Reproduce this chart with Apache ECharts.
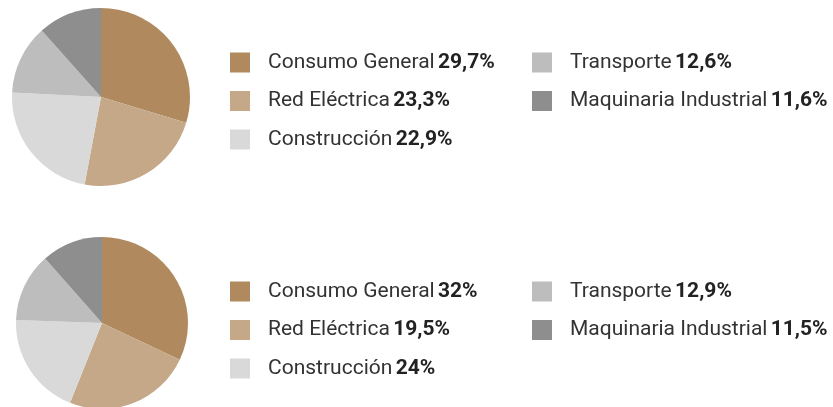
<!DOCTYPE html>
<html lang="es">
<head>
    <meta charset="utf-8">
    <script src="https://cdn.jsdelivr.net/npm/echarts@6/dist/echarts.min.js"></script>
    <style>
        html, body { margin: 0; padding: 0; background: #fff; }
        #chart { width: 833px; height: 407px; }
    </style>
</head>
<body>
<div id="chart"></div>
<script type="text/javascript">
    var categories = ['Consumo General', 'Red Eléctrica', 'Construcción', 'Transporte', 'Maquinaria Industrial'];
    // top pie: slices and legend agree
    var valuesTop = [29.7, 23.3, 22.9, 12.6, 11.6];
    // bottom pie: slices as drawn in the source (2nd and 3rd slice look swapped vs. its legend)
    var valuesBottom = [32, 24, 19.5, 12.9, 11.5];
    var legendBottom = [32, 19.5, 24, 12.9, 11.5];
    var colors = ['#b08a5e', '#c4a888', '#d9d9d9', '#bdbdbd', '#8e8e8e'];

    function pct(v) {
        return String(v).replace('.', ',') + '%';
    }

    function pieData(values) {
        return categories.map(function (name, i) {
            return { name: name, value: values[i], itemStyle: { color: colors[i] } };
        });
    }

    function legendFor(values, names, left, top) {
        return {
            orient: 'vertical',
            left: left,
            top: top,
            padding: 0,
            data: names,
            icon: 'rect',
            itemWidth: 20,
            itemHeight: 20,
            itemGap: 17.5,
            selectedMode: false,
            formatter: function (name) {
                return '{n|' + name + '} {b|' + pct(values[categories.indexOf(name)]) + '}';
            },
            textStyle: {
                rich: {
                    n: { fontFamily: 'Roboto', fontSize: 21, color: '#333', lineHeight: 20, padding: [0, 0, 0, 13] },
                    b: { fontFamily: 'Roboto', fontSize: 21, fontWeight: 'bold', color: '#222', lineHeight: 20 }
                }
            }
        };
    }

    var chart = echarts.init(document.getElementById('chart'));
    var option = {
        animation: false,
        legend: [
            legendFor(valuesTop, categories.slice(0, 3), 230, 52),
            legendFor(valuesTop, categories.slice(3), 532, 52),
            legendFor(legendBottom, categories.slice(0, 3), 230, 281),
            legendFor(legendBottom, categories.slice(3), 532, 281)
        ],
        series: [
            {
                type: 'pie',
                center: [101, 97],
                radius: 89,
                label: { show: false },
                labelLine: { show: false },
                emphasis: { disabled: true },
                data: pieData(valuesTop)
            },
            {
                type: 'pie',
                center: [102, 323],
                radius: 86,
                label: { show: false },
                labelLine: { show: false },
                emphasis: { disabled: true },
                data: pieData(valuesBottom)
            }
        ]
    };
    chart.setOption(option);
</script>
</body>
</html>
